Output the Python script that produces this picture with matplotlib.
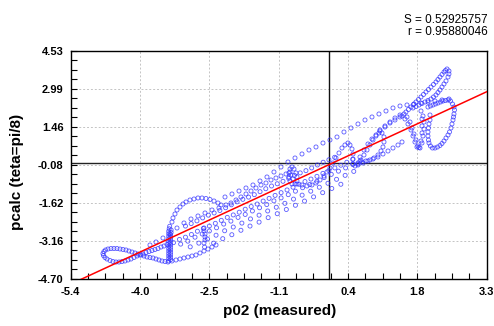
import matplotlib
matplotlib.use("Agg")
import matplotlib.pyplot as plt
import numpy as np
from matplotlib.ticker import AutoMinorLocator

# ---------------- data ----------------
x_min, x_max = -5.4, 3.3
y_min, y_max = -4.70, 4.53
x_labels = ['-5.4', '-4.0', '-2.5', '-1.1', '0.4', '1.8', '3.3']
y_labels = ['-4.70', '-3.16', '-1.62', '-0.08', '1.46', '2.99', '4.53']
fit_slope = 0.894
fit_intercept = -0.08
stat_S = 'S = 0.52925757'
stat_r = 'r = 0.95880046'

loop_x = [-3.365,-3.428,-3.491,-3.553,-3.616,-3.679,-3.742,-3.804,-3.867,-3.930,
          -3.993,-4.055,-4.118,-4.181,-4.244,-4.306,-4.369,-4.432,-4.495,-4.557,
          -4.620,-4.672,-4.704,-4.725,-4.714,-4.683,-4.641,-4.578,-4.516,-4.453,
          -4.390,-4.327,-4.264,-4.202,-4.139,-4.076,-4.013,-3.951,-3.888,-3.825,
          -3.762,-3.700,-3.637,-3.574,-3.511,-3.449,-3.386]
loop_y = [-4.013,-3.993,-3.972,-3.932,-3.892,-3.851,-3.831,-3.811,-3.771,-3.730,
          -3.690,-3.649,-3.609,-3.569,-3.528,-3.508,-3.488,-3.468,-3.468,-3.468,
          -3.488,-3.528,-3.589,-3.670,-3.750,-3.831,-3.892,-3.952,-3.993,-4.013,
          -4.013,-3.993,-3.972,-3.932,-3.892,-3.831,-3.771,-3.730,-3.690,-3.629,
          -3.589,-3.548,-3.508,-3.468,-3.407,-3.367,-3.306]

bar_x = [-3.35,-3.35,-3.35,-3.35,-3.35,-3.35,-3.35,-3.35,-3.35,-3.35,-3.35,-3.35,-3.35,-3.34,-3.33,
         -3.31,-3.31,-3.31,-3.31,-3.31,-3.31,-3.31,-3.31,-3.31,-3.31,-3.31,-3.30,-3.30]
bar_y = [-3.97,-3.87,-3.77,-3.67,-3.57,-3.47,-3.37,-3.27,-3.17,-3.07,-2.97,-2.87,-2.77,-2.67,-2.57,
         -3.92,-3.82,-3.72,-3.62,-3.52,-3.42,-3.32,-3.22,-3.12,-3.02,-2.92,-2.82,-2.72]

bump_x = [-3.282,-3.261,-3.219,-3.177,-3.114,-3.052,-2.989,-2.905,-2.822,-2.738,
          -2.654,-2.571,-2.487,-2.403,-2.320,-2.257,-2.152,-2.048,-1.943,-1.839,
          -1.734,-1.629,-1.525,-1.420,-1.316,-1.211,-1.107,-1.002,-0.897,-0.814]
bump_y = [-2.396,-2.234,-2.072,-1.911,-1.789,-1.668,-1.587,-1.506,-1.466,-1.425,
          -1.425,-1.445,-1.486,-1.547,-1.628,-1.708,-1.708,-1.628,-1.506,-1.385,
          -1.264,-1.143,-1.021,-0.900,-0.819,-0.698,-0.617,-0.536,-0.455,-0.374]

top_x = [-2.173,-2.027,-1.880,-1.734,-1.588,-1.441,-1.295,-1.149,-1.002,-0.856,
         -0.709,-0.563,-0.417,-0.270,-0.124,0.022,0.169,0.315,0.462,0.608,
         0.755,0.901,1.047,1.194,1.340,1.487,1.633,1.779,1.926,2.072,
         2.219,2.365,2.511]
top_y = [-1.385,-1.264,-1.143,-1.021,-0.900,-0.738,-0.576,-0.374,-0.172,0.030,
         0.192,0.354,0.515,0.637,0.798,0.920,1.041,1.243,1.405,1.567,
         1.728,1.850,1.971,2.092,2.214,2.294,2.335,2.375,2.415,2.456,
         2.496,2.537,2.577]

upleft_x = [-3.742,-3.616,-3.470,-3.323,-3.177,-3.031,-2.884,-2.738,-2.591,-2.445,-2.299]
upleft_y = [-3.326,-3.204,-3.043,-2.881,-2.638,-2.436,-2.274,-2.153,-2.032,-1.911,-1.830]

p1_x = [-3.00,-2.88,-2.76,-2.64,-2.52,-2.40,-2.28,-2.16,-2.04,-1.92,-1.80,-1.68,-1.56,-1.44,
        -1.32,-1.20,-1.08,-0.96,-0.84,-0.72,-0.60,-0.48,-0.36,-0.24,-0.12,0.00,0.12]
p1_y = [-2.56,-2.46,-2.35,-2.23,-2.12,-2.03,-1.93,-1.82,-1.70,-1.58,-1.48,-1.39,-1.29,-1.17,
        -1.05,-0.94,-0.85,-0.75,-0.63,-0.51,-0.41,-0.32,-0.21,-0.09,0.02,0.12,0.22]

p2_x = [-3.25,-3.125,-3.00,-2.875,-2.75,-2.625,-2.50,-2.375,-2.25,-2.125,-2.00,-1.875,-1.75,
        -1.625,-1.50,-1.375,-1.25,-1.125,-1.00,-0.875,-0.75,-0.625,-0.50,-0.375,-0.25,
        -0.125,0.00,0.125,0.25,0.375,0.50]
p2_y = [-3.23,-3.10,-3.01,-2.90,-2.77,-2.66,-2.56,-2.45,-2.33,-2.21,-2.11,-2.00,-1.88,
        -1.77,-1.67,-1.55,-1.44,-1.32,-1.21,-1.10,-0.99,-0.87,-0.76,-0.66,-0.55,
        -0.43,-0.32,-0.21,-0.10,0.02,0.13]

p3_x = [-3.10,-2.95,-2.80,-2.65,-2.50,-2.35,-2.20,-2.05,-1.90,-1.75,-1.60,-1.45,-1.30,
        -1.15,-1.00,-0.85,-0.70,-0.55,-0.40,-0.25,-0.10,0.05,0.20,0.35,0.50,0.65]
p3_y = [-3.29,-3.17,-3.01,-2.88,-2.76,-2.63,-2.48,-2.36,-2.21,-2.09,-1.95,-1.82,-1.69,
        -1.54,-1.42,-1.29,-1.15,-1.01,-0.88,-0.75,-0.60,-0.47,-0.34,-0.21,-0.07,0.06]

p4_x = [-2.90,-2.72,-2.54,-2.36,-2.18,-2.00,-1.82,-1.64,-1.46,-1.28,
        -1.10,-0.92,-0.74,-0.56,-0.38,-0.20,-0.02,0.16,0.34,0.52]
p4_y = [-3.40,-3.25,-3.08,-2.93,-2.75,-2.60,-2.44,-2.27,-2.12,-1.95,
        -1.80,-1.64,-1.47,-1.31,-1.15,-0.99,-0.83,-0.67,-0.51,-0.35]

p5_x = [-2.60,-2.41,-2.22,-2.03,-1.84,-1.65,-1.46,-1.27,-1.08,-0.89,-0.70,-0.51,-0.32,-0.13,0.06,0.25]
p5_y = [-3.41,-3.25,-3.07,-2.91,-2.73,-2.56,-2.40,-2.22,-2.06,-1.89,-1.72,-1.55,-1.38,-1.21,-1.04,-0.87]

lowleft_x = [-3.282,-3.198,-3.114,-3.031,-2.947,-2.863,-2.780,-2.696,-2.612,-2.529,-2.445,-2.361]
lowleft_y = [-3.972,-3.932,-3.892,-3.851,-3.811,-3.771,-3.730,-3.649,-3.569,-3.488,-3.407,-3.326]

bar2_x = [-2.612,-2.612,-2.591,-2.591,-2.591,-2.612]
bar2_y = [-2.638,-2.759,-2.881,-3.002,-3.123,-3.245]

blob_x = [-0.814,-0.835,-0.835,-0.814,-0.772,-0.709,-0.668,-0.668,-0.689,-0.730,-0.772,-0.793,-0.751]
blob_y = [-0.253,-0.414,-0.576,-0.738,-0.859,-0.859,-0.738,-0.576,-0.414,-0.253,-0.172,-0.495,-0.657]

s_x = [-0.668,-0.563,-0.458,-0.354,-0.270,-0.186,-0.103,-0.040,0.022,0.085,
       0.148,0.211,0.273,0.336,0.399,0.441,0.483,0.504,0.504,0.504,
       0.546,0.608,0.671,0.734,0.797,0.859,0.922,0.985,1.047,1.110,
       1.152,1.152,1.131,1.089,1.026,0.943,0.859,0.775,0.692,0.608]
s_y = [-0.859,-0.900,-0.940,-0.900,-0.819,-0.698,-0.536,-0.374,-0.212,-0.010,
       0.192,0.394,0.596,0.717,0.798,0.717,0.556,0.354,0.152,-0.051,
       -0.131,-0.051,0.111,0.313,0.515,0.717,0.920,1.081,1.203,1.203,
       1.041,0.839,0.637,0.475,0.313,0.192,0.111,0.071,0.030,-0.010]

band_x = [0.650,0.734,0.817,0.901,0.985,1.068,1.173,1.278,1.382,1.487,
          0.608,0.713,0.817,0.922,1.026,1.131,1.236,1.340,1.445,1.529]
band_y = [0.232,0.515,0.758,0.960,1.122,1.283,1.445,1.607,1.728,1.850,
          -0.091,-0.010,0.071,0.152,0.232,0.354,0.475,0.596,0.717,0.839]

v_x = [1.068,1.173,1.278,1.382,1.487,1.570,1.633,1.696,1.738,1.779,
       1.821,1.863,1.905,1.947,1.968,1.989,1.989,1.968,1.926,
       1.529,1.591,1.654,1.717,1.759,1.800,1.842,1.884,1.926,1.947,1.947,1.947]
v_y = [1.324,1.486,1.647,1.809,1.930,1.971,1.850,1.647,1.405,1.162,
       0.920,0.677,0.596,0.798,1.081,1.364,1.647,1.890,2.092,
       1.890,1.769,1.567,1.324,1.081,0.839,0.637,0.616,0.879,1.203,1.486,1.769]

tall_x = [1.612,1.664,1.717,1.769,1.821,1.873,1.926,1.978,2.030,2.082,
          2.135,2.187,2.239,2.281,2.323,2.365,2.407,2.438,2.470,
          2.511,2.511,2.491,2.449,2.407,2.365,2.323,2.281,2.239,2.187,
          2.135,2.072,2.009,1.947,1.884,1.821,1.759]
tall_y = [2.052,2.153,2.254,2.355,2.456,2.557,2.658,2.759,2.860,2.961,
          3.062,3.163,3.264,3.365,3.467,3.568,3.669,3.729,3.790,
          3.709,3.588,3.467,3.305,3.184,3.062,2.941,2.840,2.739,2.658,
          2.577,2.517,2.456,2.395,2.335,2.274,2.214]

right_x = [2.072,2.124,2.177,2.229,2.281,2.334,2.386,2.438,2.491,2.543,
           2.585,2.616,2.627,2.616,2.606,2.595,2.574,2.553,2.522,2.491,
           2.449,2.407,2.365,2.323,2.271,2.219,2.166,2.124,2.093,2.082,
           2.072,2.072,2.082,2.093,2.114,2.114]
right_y = [2.254,2.294,2.335,2.375,2.415,2.456,2.496,2.516,2.537,2.496,
           2.375,2.254,2.133,1.971,1.850,1.728,1.567,1.405,1.243,1.122,
           0.999,0.878,0.778,0.697,0.636,0.596,0.596,0.677,0.798,0.920,
           1.081,1.243,1.405,1.567,1.728,1.930]

series_x = [loop_x, bar_x, bump_x, top_x, upleft_x, p1_x, p2_x, p3_x, p4_x, p5_x,
            lowleft_x, bar2_x, blob_x, s_x, band_x, v_x, tall_x, right_x]
series_y = [loop_y, bar_y, bump_y, top_y, upleft_y, p1_y, p2_y, p3_y, p4_y, p5_y,
            lowleft_y, bar2_y, blob_y, s_y, band_y, v_y, tall_y, right_y]

# ---------------- plot ----------------
fig = plt.figure(figsize=(4.94, 3.26), dpi=100)
ax = fig.add_axes([0.1431, 0.1442, 0.8421, 0.7003])

font = 'Liberation Sans'
all_x = np.concatenate([np.asarray(v, float) for v in series_x])
all_y = np.concatenate([np.asarray(v, float) for v in series_y])
ax.scatter(all_x, all_y, s=8.5, facecolors='none', edgecolors='#3232ff',
           linewidths=0.6, alpha=0.8, zorder=3)

line_x = np.array([x_min, x_max])
ax.plot(line_x, fit_slope * line_x + fit_intercept, color='red', lw=1.1, zorder=4)

ax.axhline(0, color='#222222', lw=1.0, zorder=2)
ax.axvline(0, color='#111111', lw=1.0, zorder=2)

ax.set_xlim(x_min, x_max)
ax.set_ylim(y_min, y_max)
ax.set_xticks(np.linspace(x_min, x_max, len(x_labels)))
ax.set_yticks(np.linspace(y_min, y_max, len(y_labels)))
ax.set_xticklabels(x_labels, fontsize=8, fontweight='bold', family=font)
ax.set_yticklabels(y_labels, fontsize=8, fontweight='bold', family=font)
ax.xaxis.set_minor_locator(AutoMinorLocator(4))
ax.yaxis.set_minor_locator(AutoMinorLocator(4))
ax.tick_params(which='both', direction='in', length=4, width=0.8, color='black')
ax.tick_params(axis='x', which='major', pad=6)
ax.tick_params(axis='y', which='major', pad=5)
ax.grid(True, which='major', linestyle=(0, (2, 2)), color='#c4c4c4', lw=0.7, zorder=1)
for sp in ax.spines.values():
    sp.set_linewidth(1.0)
    sp.set_color('black')

fig.text(0.566, 0.046, 'p02 (measured)', ha='center', va='center',
         fontsize=11, fontweight='bold', family=font)
fig.text(0.034, 0.474, 'pcalc (teta=pi/8)', ha='center', va='center', rotation=90,
         fontsize=11, fontweight='bold', family=font)
fig.text(0.988, 0.940, stat_S, ha='right', va='center', fontsize=8.5, family=font)
fig.text(0.988, 0.902, stat_r, ha='right', va='center', fontsize=8.5, family=font)

fig.savefig('out.png', dpi=100)
